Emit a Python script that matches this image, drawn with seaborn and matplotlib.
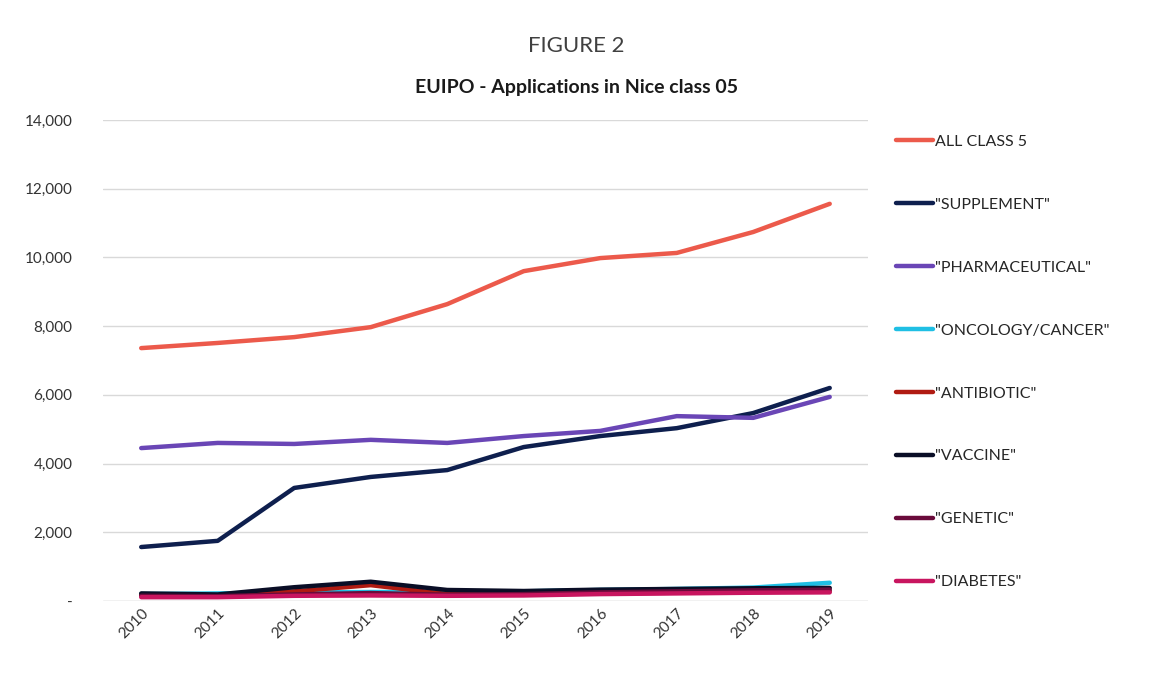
import numpy as np
import pandas as pd
import matplotlib
matplotlib.use('Agg')
import matplotlib.pyplot as plt
from matplotlib.ticker import FuncFormatter
import seaborn as sns

sns.set_style('white')
plt.rcParams['font.family'] = ['Lato', 'DejaVu Sans']

# data
years = ['2010', '2011', '2012', '2013', '2014', '2015', '2016', '2017', '2018', '2019']
all_class5 = [7360, 7510, 7680, 7970, 8640, 9600, 9980, 10130, 10740, 11560]
supplement = [1570, 1750, 3290, 3610, 3810, 4480, 4800, 5030, 5470, 6200]
pharmaceutical = [4450, 4600, 4570, 4690, 4600, 4800, 4950, 5380, 5330, 5940]
oncology = [200, 220, 250, 260, 260, 280, 320, 350, 390, 530]
antibiotic = [180, 160, 280, 460, 200, 180, 220, 240, 260, 280]
vaccine = [220, 190, 400, 560, 320, 290, 330, 350, 370, 380]
genetic = [150, 140, 190, 230, 180, 200, 250, 280, 310, 330]
diabetes = [110, 110, 150, 160, 150, 160, 200, 220, 240, 250]

series_names = ['ALL CLASS 5', '"SUPPLEMENT"', '"PHARMACEUTICAL"', '"ONCOLOGY/CANCER"',
                '"ANTIBIOTIC"', '"VACCINE"', '"GENETIC"', '"DIABETES"']
series_values = [all_class5, supplement, pharmaceutical, oncology,
                 antibiotic, vaccine, genetic, diabetes]
colors = ['#EC5A4B', '#0E1F4E', '#6A46B6', '#1FBFE4', '#B01B12', '#0A0E26', '#6A0B3B', '#C8155F']

df = pd.DataFrame({'Year': years * len(series_names),
                   'Series': np.repeat(series_names, len(years)),
                   'Applications': np.concatenate(series_values)})

fig = plt.figure(figsize=(11.53, 6.88), dpi=100)
ax = fig.add_axes([0.0893, 0.1265, 0.6635, 0.6991])

sns.lineplot(data=df, x='Year', y='Applications', hue='Series', hue_order=series_names,
             palette=dict(zip(series_names, colors)), linewidth=3.2, ax=ax, sort=False)

ax.set_xlim(-0.5, 9.5)
ax.set_ylim(0, 14000)
ax.set_yticks(range(0, 14001, 2000))
ax.yaxis.set_major_formatter(FuncFormatter(lambda v, p: '-' if v == 0 else f'{int(v):,}'))
ax.grid(axis='y', color='#D9D9D9', linewidth=1)
ax.set_axisbelow(True)
sns.despine(ax=ax, left=True, bottom=True, top=True, right=True)
ax.axhline(0, color='#D9D9D9', linewidth=1, zorder=0)
ax.set_xlabel('')
ax.set_ylabel('')
ax.tick_params(axis='both', length=0, labelsize=11, colors='#333333')
ax.tick_params(axis='y', pad=22)
plt.setp(ax.get_xticklabels(), rotation=45, ha='right', rotation_mode='anchor')

handles, labels = ax.get_legend_handles_labels()
ax.get_legend().remove()
fig.legend(handles, labels, loc='upper left', bbox_to_anchor=(0.765, 0.825), frameon=False,
           fontsize=11.5, labelspacing=3.05, handlelength=2.3, handletextpad=0.1)

fig.text(0.5, 0.933, 'FIGURE 2', ha='center', va='center', fontsize=16, color='#404040')
fig.text(0.5, 0.873, 'EUIPO - Applications in Nice class 05', ha='center', va='center',
         fontsize=14, fontweight='bold', color='#1a1a1a')

fig.savefig('out.png', dpi=100)
